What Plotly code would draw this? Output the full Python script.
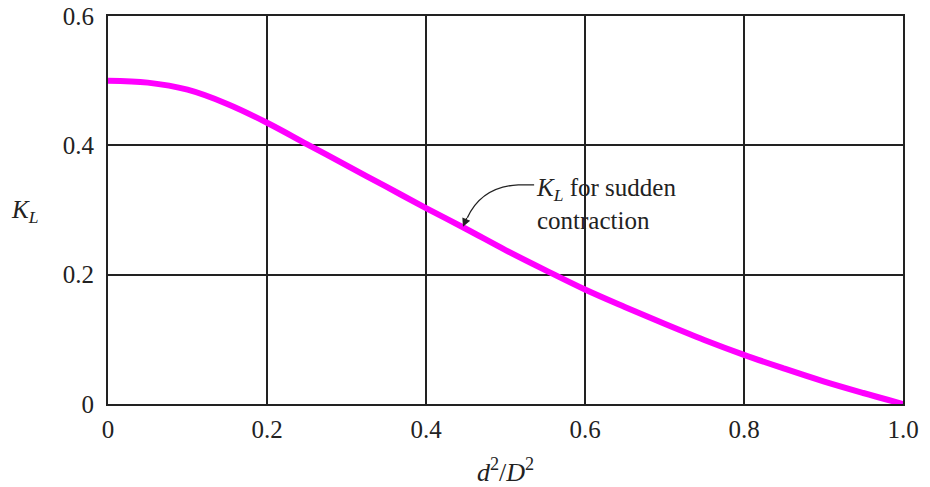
import plotly.graph_objects as go

area_ratio = [0.0, 0.05, 0.1, 0.15, 0.2, 0.25, 0.3, 0.35, 0.4, 0.45, 0.5,
              0.55, 0.6, 0.65, 0.7, 0.75, 0.8, 0.85, 0.9, 0.95, 1.0]
k_loss = [0.500, 0.497, 0.486, 0.464, 0.435, 0.402, 0.369, 0.336, 0.303, 0.271, 0.238,
          0.207, 0.177, 0.150, 0.124, 0.099, 0.076, 0.055, 0.035, 0.017, 0.0]
x_ticks = [0, 0.2, 0.4, 0.6, 0.8, 1.0]
x_tick_text = ["0", "0.2", "0.4", "0.6", "0.8", "1.0"]
y_ticks = [0, 0.2, 0.4, 0.6]
y_tick_text = ["0", "0.2", "0.4", "0.6"]

FONT = "Liberation Serif, Times New Roman, serif"
INK = "#222"

fig = go.Figure()
fig.add_trace(go.Scatter(x=area_ratio, y=k_loss, mode="lines",
                         line=dict(color="#FF00FF", width=6, shape="spline"),
                         showlegend=False, hoverinfo="skip"))

axis_common = dict(showline=True, linecolor=INK, linewidth=2, mirror=True,
                   showgrid=True, gridcolor=INK, gridwidth=1.5, zeroline=False,
                   ticks="", automargin=False,
                   tickfont=dict(family=FONT, size=25, color=INK))
fig.update_xaxes(range=[0, 1.0], tickvals=x_ticks, ticktext=x_tick_text,
                 ticklabelstandoff=2, **axis_common)
fig.update_yaxes(range=[0, 0.6], tickvals=y_ticks, ticktext=y_tick_text,
                 ticklabelstandoff=7, **axis_common)

# Curved leader line for the label
fig.add_shape(type="path", xref="x", yref="y",
              path="M 0.536,0.339 L 0.516,0.339 Q 0.470,0.336 0.452,0.288",
              line=dict(color=INK, width=1.3))
fig.add_annotation(x=0.4465, y=0.274, ax=0.452, ay=0.290, xref="x", yref="y",
                   axref="x", ayref="y", text="", showarrow=True,
                   arrowhead=2, arrowsize=1.3, arrowwidth=1.3, arrowcolor=INK)
fig.add_annotation(x=0.536, y=0.309, xref="x", yref="y", xanchor="left", yanchor="middle",
                   text="<i>K</i><sub><i>L</i></sub> for sudden<br>contraction",
                   showarrow=False, align="left",
                   font=dict(family=FONT, size=25, color=INK))

# Axis titles
fig.add_annotation(x=-0.105, y=0.495, xref="paper", yref="paper", xanchor="center",
                   yanchor="middle", text="<i>K</i><sub><i>L</i></sub>", showarrow=False,
                   font=dict(family=FONT, size=25, color=INK))
fig.add_annotation(x=0.5, y=-0.172, xref="paper", yref="paper", xanchor="center",
                   yanchor="middle", text="<i>d</i><sup>2</sup>/<i>D</i><sup>2</sup>",
                   showarrow=False, font=dict(family=FONT, size=26, color=INK))

fig.update_layout(width=930, height=487, margin=dict(l=108, r=27, t=16, b=83),
                  paper_bgcolor="white", plot_bgcolor="white")

fig.write_html("out.html", config={"displayModeBar": False},
               post_script="document.body.style.margin='0';document.body.style.overflow='hidden';")
